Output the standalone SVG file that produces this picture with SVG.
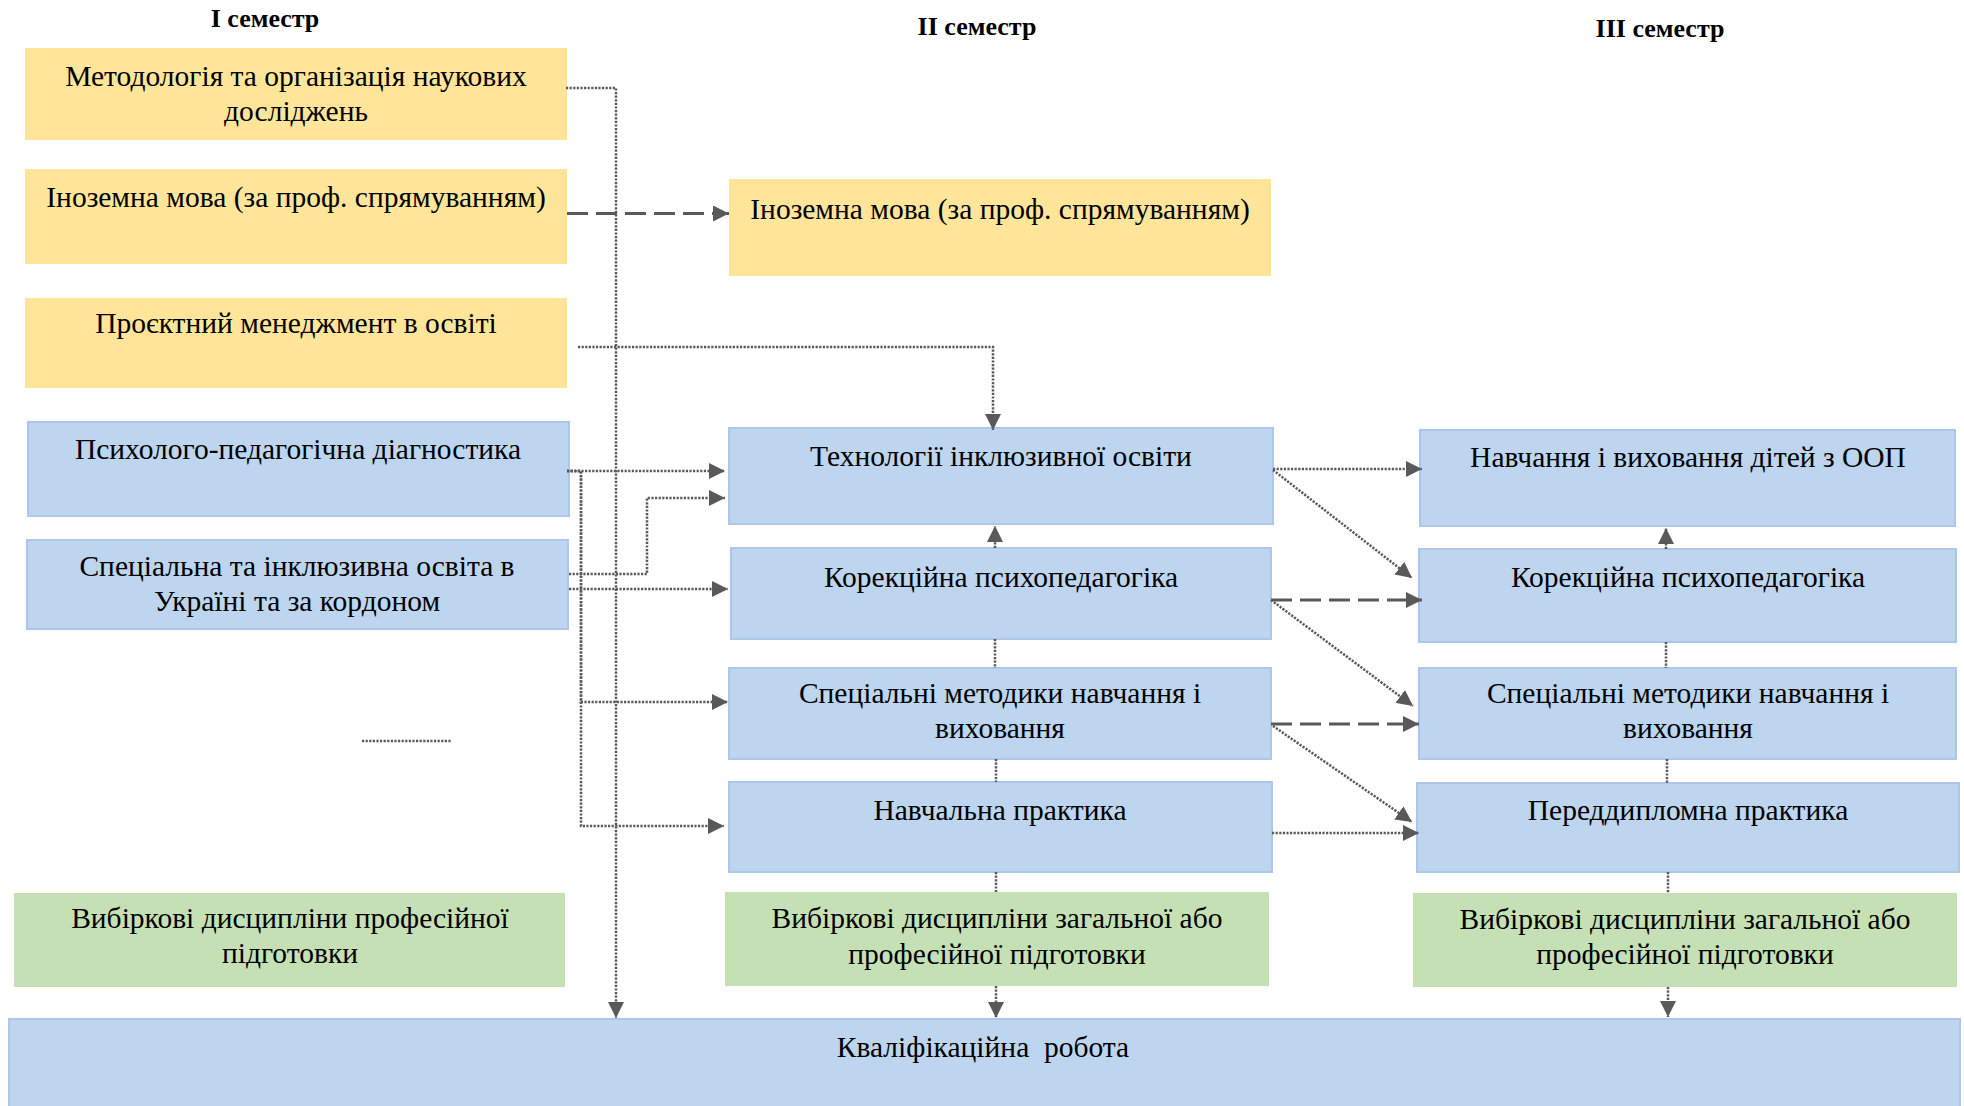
<svg xmlns="http://www.w3.org/2000/svg" width="1964" height="1106" viewBox="0 0 1964 1106">
<style>
text{font-family:"Liberation Serif","Times New Roman",serif;font-size:29.5px;fill:#000;text-anchor:middle}
.h{font-weight:bold;font-size:26px}
.y{fill:#FFE599}
.b{fill:#BDD5EE;stroke:#ADC6EC;stroke-width:2}
.g{fill:#C5E0B4}
.dot{fill:none;stroke:#595959;stroke-width:2.5;stroke-dasharray:2.2 1.4}
.dash{fill:none;stroke:#595959;stroke-width:3;stroke-dasharray:21 8}
.a{marker-end:url(#ah)}
</style>
<defs>
<marker id="ah" markerUnits="userSpaceOnUse" markerWidth="16" markerHeight="16" viewBox="0 0 16 16" refX="16" refY="8" orient="auto">
<path d="M0,0 L16,8 L0,16 z" fill="#595959"/>
</marker>
</defs>
<rect width="1964" height="1106" fill="#fff"/>

<g id="titles">
<text class="h" x="265" y="27">I семестр</text>
<text class="h" x="977" y="35">II семестр</text>
<text class="h" x="1660" y="37">III семестр</text>
</g>

<g id="n_metod"><rect class="y" x="25" y="48" width="542" height="92"/>
<text x="296" y="86">Методологія та організація наукових</text><text x="296" y="121">досліджень</text></g>
<g id="n_inoz1"><rect class="y" x="25" y="169" width="542" height="95"/>
<text x="296" y="207">Іноземна мова (за проф. спрямуванням)</text></g>
<g id="n_proekt"><rect class="y" x="25" y="298" width="542" height="90"/>
<text x="296" y="333">Проєктний менеджмент в освіті</text></g>
<g id="n_psyh"><rect class="b" x="28" y="422" width="541" height="94"/>
<text x="298" y="459">Психолого-педагогічна діагностика</text></g>
<g id="n_spec"><rect class="b" x="27" y="540" width="541" height="89"/>
<text x="297" y="576">Спеціальна та інклюзивна освіта в</text><text x="297" y="611">Україні та за кордоном</text></g>
<g id="n_vyb1"><rect class="g" x="14" y="893" width="551" height="94"/>
<text x="290" y="928">Вибіркові дисципліни професійної</text><text x="290" y="963">підготовки</text></g>

<g id="n_inoz2"><rect class="y" x="729" y="179" width="542" height="97"/>
<text x="1000" y="219">Іноземна мова (за проф. спрямуванням)</text></g>
<g id="n_tech"><rect class="b" x="729" y="428" width="544" height="96"/>
<text x="1001" y="466">Технології інклюзивної освіти</text></g>
<g id="n_kor2"><rect class="b" x="731" y="548" width="540" height="91"/>
<text x="1001" y="587">Корекційна психопедагогіка</text></g>
<g id="n_met2"><rect class="b" x="729" y="668" width="542" height="91"/>
<text x="1000" y="703">Спеціальні методики навчання і</text><text x="1000" y="738">виховання</text></g>
<g id="n_nav"><rect class="b" x="729" y="782" width="543" height="90"/>
<text x="1000" y="820">Навчальна практика</text></g>
<g id="n_vyb2"><rect class="g" x="725" y="892" width="544" height="94"/>
<text x="997" y="928">Вибіркові дисципліни загальної або</text><text x="997" y="964">професійної підготовки</text></g>

<g id="n_oop"><rect class="b" x="1420" y="430" width="535" height="96"/>
<text x="1688" y="467">Навчання і виховання дітей з ООП</text></g>
<g id="n_kor3"><rect class="b" x="1419" y="549" width="537" height="93"/>
<text x="1688" y="587">Корекційна психопедагогіка</text></g>
<g id="n_met3"><rect class="b" x="1419" y="668" width="537" height="91"/>
<text x="1688" y="703">Спеціальні методики навчання і</text><text x="1688" y="738">виховання</text></g>
<g id="n_pered"><rect class="b" x="1417" y="783" width="542" height="89"/>
<text x="1688" y="820">Переддипломна практика</text></g>
<g id="n_vyb3"><rect class="g" x="1413" y="893" width="544" height="94"/>
<text x="1685" y="929">Вибіркові дисципліни загальної або</text><text x="1685" y="964">професійної підготовки</text></g>

<g id="n_kval"><rect class="b" x="9" y="1019" width="1951" height="100"/>
<text x="983" y="1057" xml:space="preserve">Кваліфікаційна  робота</text></g>

<g id="connectors">
<path class="dot a" d="M566 88 H616 V1018"/>
<path class="dash a" d="M567 213.5 H729"/>
<path class="dot a" d="M578 347 H993 V430"/>
<path class="dot a" d="M567 471 H725"/>
<path class="dot a" d="M567 471 H581 V702 H728"/>
<path class="dot a" d="M567 471 H581 V826 H724"/>
<path class="dot a" d="M569 574 H647 V498 H725"/>
<path class="dot a" d="M569 589 H728"/>
<path class="dot a" d="M995 548 V526"/>
<path class="dot" d="M995 639 V668"/>
<path class="dot" d="M996 759 V782"/>
<path class="dot" d="M996 872 V892"/>
<path class="dot a" d="M996 986 V1018"/>
<path class="dot a" d="M1273 469 H1422"/>
<path class="dot a" d="M1273 470 L1412 578"/>
<path class="dash a" d="M1271 600 H1422"/>
<path class="dot a" d="M1271 600 L1413 706"/>
<path class="dash a" d="M1271 724 H1419"/>
<path class="dot a" d="M1273 726 L1412 822"/>
<path class="dot a" d="M1272 833 H1419"/>
<path class="dot a" d="M1666 549 V528"/>
<path class="dot" d="M1666 642 V668"/>
<path class="dot" d="M1667 759 V783"/>
<path class="dot" d="M1668 872 V893"/>
<path class="dot a" d="M1668 987 V1017"/>
<path class="dot" d="M362 741 H452"/>
</g>
</svg>
